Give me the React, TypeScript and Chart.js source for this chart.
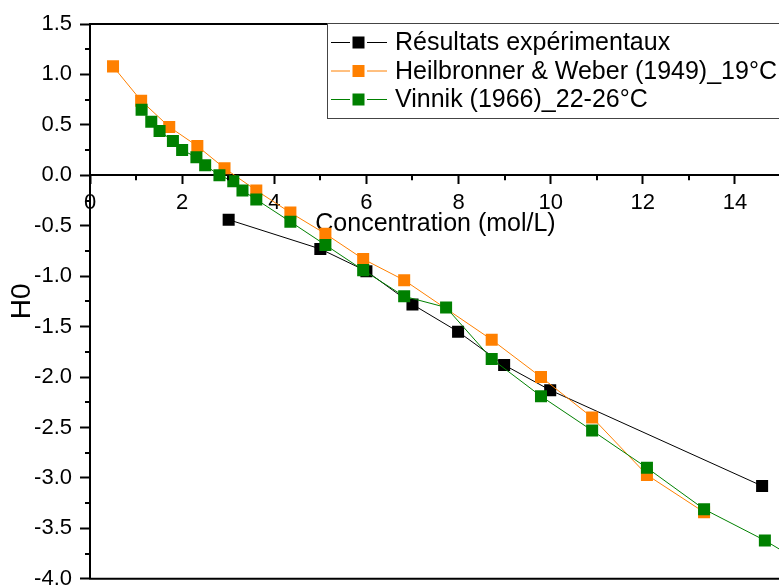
import React, { useEffect, useRef } from "react";
import { Chart, registerables } from "chart.js";

Chart.register(...registerables);

const FONT = "'Liberation Sans', Arial, sans-serif";

const seriesNames = [
  "Résultats expérimentaux",
  "Heilbronner & Weber (1949)_19°C",
  "Vinnik (1966)_22-26°C",
];
const seriesColors = ["#000000", "#FF8000", "#008000"];

const expX = [3.01, 5.0, 6.0, 7.0, 7.99, 8.99, 9.99, 14.59];
const expY = [-0.44, -0.73, -0.95, -1.28, -1.55, -1.88, -2.13, -3.08];

const hwX = [0.5, 1.11, 1.72, 2.33, 2.92, 3.61, 4.35, 5.11, 5.93, 6.82, 8.72, 9.79, 10.9, 12.09, 13.33];
const hwY = [1.08, 0.74, 0.48, 0.29, 0.07, -0.15, -0.37, -0.58, -0.83, -1.04, -1.63, -2.0, -2.4, -2.97, -3.34];

const vinX = [1.12, 1.33, 1.51, 1.8, 2.0, 2.31, 2.5, 2.81, 3.11, 3.31, 3.61, 4.35, 5.11, 5.93, 6.82, 7.73, 8.72, 9.79, 10.9, 12.09, 13.33, 14.65, 15.9];
const vinY = [0.65, 0.53, 0.44, 0.34, 0.25, 0.18, 0.1, 0.0, -0.06, -0.15, -0.24, -0.46, -0.69, -0.94, -1.2, -1.31, -1.82, -2.19, -2.53, -2.9, -3.31, -3.62, -3.96];

const xTicks = [0, 2, 4, 6, 8, 10, 12, 14];
const xMinorTicks = [1, 3, 5, 7, 9, 11, 13];
const yTicks = [1.5, 1.0, 0.5, 0.0, -0.5, -1.0, -1.5, -2.0, -2.5, -3.0, -3.5, -4.0];
const yMinorTicks = [1.25, 0.75, 0.25, -0.25, -0.75, -1.25, -1.75, -2.25, -2.75, -3.25, -3.75];

const xTitle = "Concentration (mol/L)";
const yTitle = "H0";

const toPoints = (xs: number[], ys: number[]) => xs.map((x, i) => ({ x, y: ys[i] }));

const framePlugin = {
  id: "frameAndLegend",
  afterDraw(chart: any) {
    const { ctx, chartArea: a, scales } = chart;
    const xs = scales.x;
    const ys = scales.y;
    ctx.save();
    ctx.strokeStyle = "#000";
    ctx.lineWidth = 2;
    ctx.beginPath();
    ctx.moveTo(a.left - 1, a.top);
    ctx.lineTo(a.right, a.top);
    ctx.moveTo(a.left - 1, a.bottom);
    ctx.lineTo(a.right, a.bottom);
    ctx.moveTo(a.right, a.top);
    ctx.lineTo(a.right, a.bottom);
    ctx.stroke();

    const zero = ys.getPixelForValue(0);
    ctx.beginPath();
    yMinorTicks.forEach((v) => {
      const py = Math.round(ys.getPixelForValue(v));
      ctx.moveTo(a.left, py);
      ctx.lineTo(a.left - 5, py);
    });
    xMinorTicks.forEach((v) => {
      const px = Math.round(xs.getPixelForValue(v));
      ctx.moveTo(px, zero);
      ctx.lineTo(px, zero + 5);
    });
    ctx.stroke();

    // legend box
    const bx = 327.5;
    const by = 23.5;
    ctx.fillStyle = "#fff";
    ctx.fillRect(bx, by, 470, 95);
    ctx.strokeStyle = "#444";
    ctx.lineWidth = 1;
    ctx.strokeRect(bx, by, 470, 95);
    chart.data.datasets.forEach((ds: any, i: number) => {
      const cy = 42.5 + i * 28.5;
      ctx.strokeStyle = ds.borderColor;
      ctx.lineWidth = 1;
      ctx.beginPath();
      ctx.moveTo(331, cy);
      ctx.lineTo(350, cy);
      ctx.moveTo(367, cy);
      ctx.lineTo(387, cy);
      ctx.stroke();
      ctx.fillStyle = ds.pointBackgroundColor;
      ctx.fillRect(352.5, cy - 6, 12, 12);
      ctx.fillStyle = "#000";
      ctx.font = `25px ${FONT}`;
      ctx.textAlign = "left";
      ctx.textBaseline = "middle";
      ctx.fillText(ds.label, 395, cy + 1);
    });
    ctx.restore();
  },
};

export default function App() {
  const ref = useRef<HTMLCanvasElement | null>(null);

  useEffect(() => {
    if (!ref.current) return;
    const datasets = [
      { label: seriesNames[0], data: toPoints(expX, expY), order: 3 },
      { label: seriesNames[1], data: toPoints(hwX, hwY), order: 2 },
      { label: seriesNames[2], data: toPoints(vinX, vinY), order: 1 },
    ].map((d, i) => ({
      ...d,
      borderColor: seriesColors[i],
      backgroundColor: seriesColors[i],
      pointBackgroundColor: seriesColors[i],
      pointBorderColor: seriesColors[i],
      pointBorderWidth: 0,
      borderWidth: 1,
      pointStyle: "rect",
      pointRadius: 8.5,
      showLine: true,
      tension: 0,
    }));

    const chart = new Chart(ref.current, {
      type: "scatter",
      data: { datasets } as any,
      options: {
        responsive: false,
        devicePixelRatio: 1,
        animation: false,
        layout: { padding: { left: 0, top: 24, right: 69, bottom: 21 } },
        plugins: { legend: { display: false }, tooltip: { enabled: false } },
        scales: {
          x: {
            type: "linear",
            position: { y: 0 } as any,
            min: 0,
            max: 15,
            afterBuildTicks: (s: any) => {
              s.ticks = xTicks.map((v) => ({ value: v }));
            },
            ticks: {
              color: "#000",
              font: { family: FONT, size: 22 },
              padding: 6,
              maxRotation: 0,
              autoSkip: false,
              callback: (v: any) => String(v),
            },
            grid: { drawOnChartArea: false, tickLength: 8, tickColor: "#000", tickWidth: 2 },
            border: { color: "#000", width: 2 },
            title: {
              display: true,
              text: xTitle,
              color: "#000",
              font: { family: FONT, size: 25 },
              padding: { top: -13, bottom: 0 },
            },
          },
          y: {
            type: "linear",
            position: "left",
            min: -4,
            max: 1.5,
            afterBuildTicks: (s: any) => {
              s.ticks = yTicks.map((v) => ({ value: v }));
            },
            afterFit: (s: any) => {
              s.width = 90;
            },
            ticks: {
              color: "#000",
              font: { family: FONT, size: 22 },
              padding: 8,
              callback: (v: any) => Number(v).toFixed(1),
            },
            grid: { drawOnChartArea: false, tickLength: 10, tickColor: "#000", tickWidth: 2 },
            border: { color: "#000", width: 2 },
            title: {
              display: true,
              text: yTitle,
              color: "#000",
              font: { family: FONT, size: 28 },
              padding: { top: 5, bottom: 0 },
            },
          },
        },
      } as any,
      plugins: [framePlugin],
    });
    return () => chart.destroy();
  }, []);

  return (
    <div
      style={{
        position: "fixed",
        left: 0,
        top: 0,
        width: 779,
        height: 585,
        overflow: "hidden",
        background: "#fff",
      }}
    >
      <canvas ref={ref} width={850} height={600} style={{ display: "block", width: 850, height: 600 }} />
    </div>
  );
}
